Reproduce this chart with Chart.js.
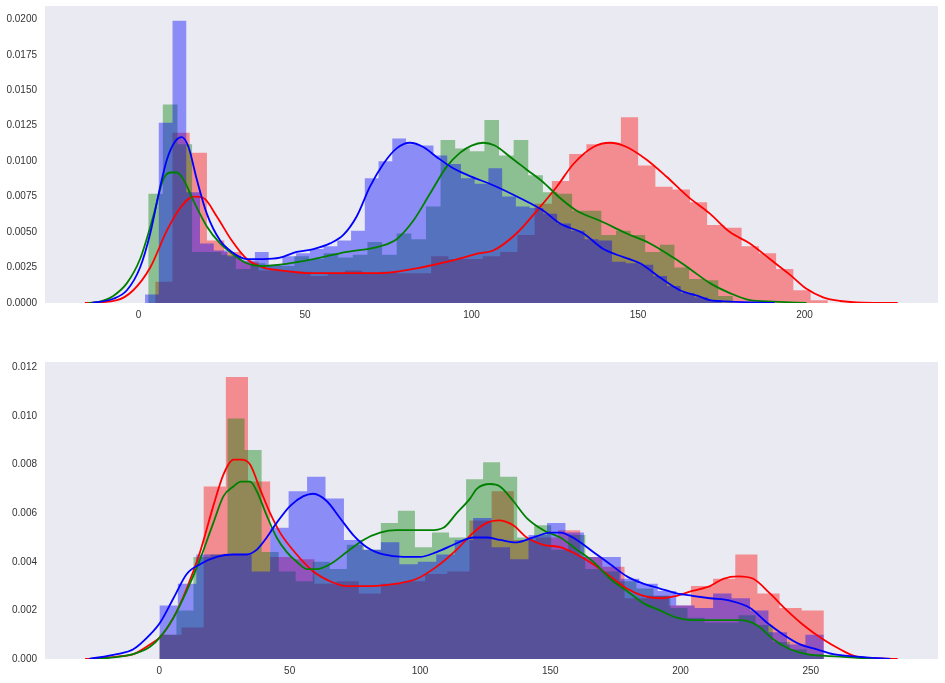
<!DOCTYPE html>
<html>
<head>
<meta charset="utf-8">
<script src="https://cdn.jsdelivr.net/npm/chart.js@4.4.0/dist/chart.umd.min.js"></script>
<style>
  body { margin: 0; background: #fff; }
  canvas { position: absolute; left: 0; }
  #topPanel { top: 0; }
  #bottomPanel { top: 330px; }
</style>
</head>
<body>
<canvas id="topPanel" width="945" height="330"></canvas>
<canvas id="bottomPanel" width="945" height="353"></canvas>
<script>
// ---- top panel: histogram bins (start, width, density per bin) ----
const topRedStart = 5.0, topRedWidth = 5.18;
const topRedHist = [0.0015, 0.0120, 0.0106, 0.0044, 0.0036, 0.0029, 0.0023, 0.0023, 0.0022, 0.0019,
  0.0021, 0.0023, 0.0021, 0.0022, 0.0021, 0.0021, 0.0033, 0.0031, 0.0031, 0.0033,
  0.0036, 0.0048, 0.0070, 0.0086, 0.0105, 0.0112, 0.0113, 0.0131, 0.0097, 0.0082,
  0.0080, 0.0071, 0.0055, 0.0053, 0.0040, 0.0035, 0.0024, 0.0009, 0.0002];
const topGreenStart = 2.9, topGreenWidth = 4.39;
const topGreenHist = [0.0077, 0.0140, 0.0112, 0.0036, 0.0036, 0.0034, 0.0024, 0.0028, 0.0027, 0.0026,
  0.0033, 0.0031, 0.0035, 0.0032, 0.0034, 0.0043, 0.0034, 0.0049, 0.0045, 0.0068,
  0.0115, 0.0109, 0.0107, 0.0129, 0.0104, 0.0115, 0.0090, 0.0078, 0.0077, 0.0065,
  0.0065, 0.0048, 0.0051, 0.0048, 0.0036, 0.0041, 0.0025, 0.0017, 0.0016, 0.0005];
const topBlueStart = 1.95, topBlueWidth = 4.125;
const topBlueHist = [0.0006, 0.0127, 0.0199, 0.0078, 0.0042, 0.0037, 0.0033, 0.0030, 0.0036, 0.0027,
  0.0033, 0.0035, 0.0038, 0.0040, 0.0044, 0.0051, 0.0088, 0.0100, 0.0116, 0.0112,
  0.0111, 0.0104, 0.0098, 0.0088, 0.0084, 0.0095, 0.0075, 0.0068, 0.0067, 0.0063,
  0.0056, 0.0051, 0.0045, 0.0044, 0.0029, 0.0028, 0.0027, 0.0019, 0.0012, 0.0007,
  0.0004, 0.0002];

// ---- top panel: density curves ----
const topRedKdeX = [-16.1, -6.5, -1.6, 3.5, 8.5, 12.5, 16.5, 19.5, 23.5, 28, 32.5, 37.5, 42.5, 52.5, 62.5,
  72.5, 82.5, 92.5, 97.5, 102, 106.5, 113.5, 119.6, 125.6, 130.6, 136.6, 141.6, 146.6, 152.6, 158.6,
  165, 171.6, 177.6, 183.6, 189.6, 195.6, 200.6, 205.6, 210.7, 217.7, 228];
const topRedKdeY = [0, 0.0002, 0.0009, 0.0025, 0.0051, 0.0067, 0.0075, 0.0074, 0.0061, 0.0044, 0.0031, 0.0025, 0.0023, 0.0021, 0.0021,
  0.0021, 0.0024, 0.0029, 0.0032, 0.0035, 0.0037, 0.0049, 0.0065, 0.0082, 0.0098, 0.0110, 0.0113, 0.0110, 0.0101, 0.0089,
  0.0075, 0.0063, 0.0050, 0.0042, 0.0031, 0.0020, 0.0010, 0.0004, 0.00014, 0.00002, 0];
const topGreenKdeX = [-15, -11.6, -7.6, -3.5, 0.45, 4.4, 7.4, 9.5, 11.5, 13.5, 16.5, 20.5, 24.5, 28, 32.5,
  37.5, 42.5, 52.5, 62.5, 72.5, 77.5, 82.5, 87.5, 92.5, 96.6, 100, 103.5, 107, 111.6, 116.6,
  121.6, 126.6, 131.6, 138.6, 146.6, 153.6, 160.6, 165.6, 171.6, 177.6, 183.6, 190.6, 200.6];
const topGreenKdeY = [0, 0.0001, 0.0005, 0.0014, 0.0031, 0.0061, 0.0087, 0.0092, 0.0092, 0.0087, 0.0072, 0.0054, 0.0042, 0.0035, 0.0028,
  0.0026, 0.0027, 0.0031, 0.0036, 0.0040, 0.0045, 0.0058, 0.0077, 0.0096, 0.0106, 0.0111, 0.0113, 0.0111, 0.0103, 0.0094,
  0.0085, 0.0074, 0.0065, 0.0058, 0.0049, 0.0042, 0.0032, 0.0024, 0.0014, 0.0007, 0.0002, 0.0001, 0];
const topBlueKdeX = [-14, -7.6, -3.5, 0.45, 3.5, 6.5, 8.5, 11, 13, 15, 17.5, 20.5, 24.5, 28, 32.5,
  37.5, 42.5, 47.5, 52.5, 57.5, 61.5, 65.5, 69.5, 73.5, 77.5, 81.5, 85.5, 89.5, 94.5, 99,
  106.5, 114.5, 121.6, 126.6, 133.6, 139.6, 143.6, 150.6, 156.6, 162.6, 168, 171.6, 177.6, 191];
const topBlueKdeY = [0, 0.0003, 0.0009, 0.0025, 0.0049, 0.0082, 0.0101, 0.0114, 0.0117, 0.0110, 0.0087, 0.0063, 0.0044, 0.0036, 0.0031,
  0.0031, 0.0032, 0.0036, 0.0038, 0.0042, 0.0048, 0.0061, 0.0082, 0.0098, 0.0109, 0.0113, 0.0110, 0.0103, 0.0095, 0.0090,
  0.0083, 0.0074, 0.0065, 0.0056, 0.0049, 0.0038, 0.0034, 0.0028, 0.0018, 0.0009, 0.0005, 0.0002, 0.0001, 0];

// ---- bottom panel: histogram bins ----
const bottomRedStart = 0, bottomRedWidth = 8.5;
const bottomRedHist = [0.0010, 0.0013, 0.0071, 0.0116, 0.0073, 0.0042, 0.0041, 0.0031, 0.0032, 0.0027,
  0.0031, 0.0032, 0.0035, 0.0036, 0.0057, 0.0069, 0.0049, 0.0050, 0.0053, 0.0042,
  0.0038, 0.0025, 0.0026, 0.0022, 0.0030, 0.0033, 0.0043, 0.0027, 0.0021, 0.0020];
const bottomGreenStart = 0, bottomGreenWidth = 6.538;
const bottomGreenHist = [0.0010, 0.0020, 0.0042, 0.0043, 0.0099, 0.0086, 0.0044, 0.0036, 0.0032, 0.0040,
  0.0037, 0.0047, 0.0045, 0.0056, 0.0061, 0.0046, 0.0052, 0.0050, 0.0074, 0.0081,
  0.0075, 0.0050, 0.0055, 0.0045, 0.0051, 0.0037, 0.0036, 0.0032, 0.0029, 0.0026,
  0.0021, 0.0017, 0.0015, 0.0015, 0.0018, 0.0014, 0.0007, 0.0004, 0.0002];
const bottomBlueStart = 0, bottomBlueWidth = 7.083;
const bottomBlueHist = [0.0022, 0.0031, 0.0043, 0.0043, 0.0043, 0.0036, 0.0054, 0.0069, 0.0075, 0.0066,
  0.0049, 0.0045, 0.0048, 0.0039, 0.0040, 0.0043, 0.0049, 0.0058, 0.0046, 0.0041,
  0.0051, 0.0056, 0.0052, 0.0042, 0.0042, 0.0033, 0.0031, 0.0028, 0.0022, 0.0021,
  0.0027, 0.0025, 0.0020, 0.0011, 0.0006, 0.0010];

// ---- bottom panel: density curves ----
const bottomRedKdeX = [-28.5, -16.3, -10, -3.6, 0.3, 5.4, 10.5, 15.6, 20.7, 24.6, 28.4, 31.3, 34.8, 38.6, 42.5,
  46.3, 52.7, 59.1, 65.5, 71.9, 80.9, 91.1, 98.8, 106.4, 114.1, 120.5, 125.6, 130.1, 135.8, 141,
  147.4, 153.8, 160.2, 166.5, 173, 179.4, 185.7, 192.1, 198.5, 204.5, 211.3, 216.4, 222.2, 227.9, 234.3,
  240.8, 247.1, 254.8, 261.2, 267.6, 283.3];
const bottomRedKdeY = [0, 0.0001, 0.0002, 0.0006, 0.0009, 0.0017, 0.0029, 0.0044, 0.0063, 0.0076, 0.0082, 0.0082, 0.0080, 0.0070, 0.0060,
  0.0052, 0.0043, 0.0036, 0.0032, 0.0030, 0.0030, 0.0031, 0.0033, 0.0038, 0.0045, 0.0052, 0.0056, 0.0057, 0.0055, 0.0050,
  0.0047, 0.0046, 0.0043, 0.0039, 0.0034, 0.0029, 0.0026, 0.0025, 0.0026, 0.0028, 0.0030, 0.0033, 0.0034, 0.0033, 0.0027,
  0.0020, 0.0014, 0.0008, 0.0004, 0.0001, 0];
const bottomGreenKdeX = [-24, -10, -3.6, 0.3, 5.4, 10.5, 15.6, 20.7, 24.6, 28.4, 31.3, 34.8, 37.4, 41.2, 45,
  48.9, 52.7, 56.6, 60.4, 65.5, 71.9, 78.3, 84.7, 91.1, 97.5, 103.9, 109, 114.1, 119.2, 121.8,
  126.9, 130.7, 135.8, 141, 147.4, 153.8, 160.2, 166.5, 173, 179.4, 185.7, 192.1, 198.5, 204.5, 211.3,
  222.8, 229.2, 235.7, 242, 248.4, 261.2, 274];
const bottomGreenKdeY = [0, 0.0002, 0.0005, 0.0009, 0.0017, 0.0028, 0.0041, 0.0056, 0.0067, 0.0071, 0.0073, 0.0073, 0.0069, 0.0059, 0.0050,
  0.0044, 0.0040, 0.0037, 0.0037, 0.0039, 0.0044, 0.0049, 0.0052, 0.0053, 0.0053, 0.0053, 0.0054, 0.0060, 0.0066, 0.0070,
  0.0072, 0.0071, 0.0065, 0.0058, 0.0053, 0.0050, 0.0045, 0.0040, 0.0033, 0.0028, 0.0023, 0.0020, 0.0017, 0.0016, 0.0016,
  0.0016, 0.0014, 0.0008, 0.0004, 0.0002, 0.0001, 0];
const bottomBlueKdeX = [-27, -16.3, -10, -3.6, 0.3, 5.4, 10.5, 15.6, 22, 28.4, 33.5, 37.4, 41.2, 45, 50.2,
  55.3, 59.1, 64.2, 69.3, 74.4, 79.6, 86, 93.6, 100, 106.4, 112.8, 117, 120.5, 125.6, 130.7,
  137.1, 143.5, 149.9, 153.8, 160.2, 166.5, 173, 179.4, 185.7, 192.1, 198.5, 204.5, 211.3, 219, 226.7,
  233.1, 239.5, 245.9, 252.3, 258.6, 267.6, 280.4];
const bottomBlueKdeY = [0, 0.0002, 0.0004, 0.0010, 0.0015, 0.0025, 0.0035, 0.0039, 0.0042, 0.0043, 0.0043, 0.0045, 0.0050, 0.0056, 0.0063,
  0.0067, 0.0068, 0.0065, 0.0058, 0.0051, 0.0046, 0.0043, 0.0042, 0.0042, 0.0044, 0.0047, 0.0049, 0.0050, 0.0050, 0.0049,
  0.0048, 0.0050, 0.0052, 0.0052, 0.0049, 0.0044, 0.0039, 0.0034, 0.0031, 0.0029, 0.0027, 0.0026, 0.0025, 0.0024, 0.0021,
  0.0015, 0.0010, 0.0006, 0.0004, 0.0002, 0.0001, 0];

// ---- axes ----
const topXTicks = [0, 50, 100, 150, 200];
const topYTicks = [0, 0.0025, 0.005, 0.0075, 0.01, 0.0125, 0.015, 0.0175, 0.02];
const bottomXTicks = [0, 50, 100, 150, 200, 250];
const bottomYTicks = [0, 0.002, 0.004, 0.006, 0.008, 0.010, 0.012];

const RED = '#ff0000', GREEN = '#008000', BLUE = '#0000ff';
const RED_FILL = 'rgba(255,0,0,0.4)', GREEN_FILL = 'rgba(0,128,0,0.4)', BLUE_FILL = 'rgba(0,0,255,0.4)';
const tickFont = { family: "'Liberation Sans', Arial, sans-serif", size: 10 };

const panelBackground = {
  id: 'panelBackground',
  beforeDraw(chart) {
    const { ctx, chartArea: a } = chart;
    ctx.save();
    ctx.fillStyle = '#eaeaf2';
    ctx.fillRect(a.left, a.top, a.right - a.left, a.bottom - a.top);
    ctx.restore();
  }
};

// bin heights -> step outline (left edge of each bin, closing at the last edge)
function histPoints(start, width, heights) {
  const pts = heights.map((h, i) => ({ x: start + i * width, y: h }));
  pts.push({ x: start + heights.length * width, y: 0 });
  return pts;
}

function curvePoints(xs, ys) {
  return xs.map((x, i) => ({ x: x, y: ys[i] }));
}

function histDataset(pts, fillColor, order) {
  return {
    data: pts, stepped: true, fill: 'origin', backgroundColor: fillColor,
    borderColor: 'rgba(0,0,0,0)', borderWidth: 0, pointRadius: 0, order: order
  };
}

function curveDataset(pts, color, order) {
  return {
    data: pts, borderColor: color, borderWidth: 1.8, fill: false, pointRadius: 0,
    cubicInterpolationMode: 'monotone', order: order
  };
}

function makePanel(id, p) {
  new Chart(document.getElementById(id), {
    type: 'line',
    data: { datasets: p.datasets },
    options: {
      responsive: false,
      animation: false,
      events: [],
      layout: { padding: { top: p.padTop, right: 7, left: 0, bottom: 0 } },
      plugins: { legend: { display: false }, tooltip: { enabled: false } },
      scales: {
        x: {
          type: 'linear', min: p.xMin, max: p.xMax,
          grid: { display: false, drawTicks: false },
          border: { display: false },
          ticks: { padding: 6, color: '#333', font: tickFont, autoSkip: false, maxRotation: 0,
                   callback: v => String(v) },
          afterBuildTicks: s => { s.ticks = p.xTicks.map(v => ({ value: v })); },
          afterFit: s => { s.height = p.xAxisHeight; s.paddingLeft = 0; s.paddingRight = 0; }
        },
        y: {
          type: 'linear', min: 0, max: p.yMax,
          grid: { display: false, drawTicks: false },
          border: { display: false },
          ticks: { padding: 8, color: '#333', font: tickFont, autoSkip: false,
                   callback: v => v.toFixed(p.yDecimals) },
          afterBuildTicks: s => { s.ticks = p.yTicks.map(v => ({ value: v })); },
          afterFit: s => { s.width = 45; s.paddingTop = 0; s.paddingBottom = 0; }
        }
      }
    },
    plugins: [panelBackground]
  });
}

makePanel('topPanel', {
  padTop: 6, xAxisHeight: 27, xMin: -28.1, xMax: 240.1, yMax: 0.02094, yDecimals: 4,
  xTicks: topXTicks, yTicks: topYTicks,
  datasets: [
    histDataset(histPoints(topRedStart, topRedWidth, topRedHist), RED_FILL, 6),
    histDataset(histPoints(topGreenStart, topGreenWidth, topGreenHist), GREEN_FILL, 5),
    histDataset(histPoints(topBlueStart, topBlueWidth, topBlueHist), BLUE_FILL, 4),
    curveDataset(curvePoints(topRedKdeX, topRedKdeY), RED, 3),
    curveDataset(curvePoints(topGreenKdeX, topGreenKdeY), GREEN, 2),
    curveDataset(curvePoints(topBlueKdeX, topBlueKdeY), BLUE, 1)
  ]
});

makePanel('bottomPanel', {
  padTop: 32, xAxisHeight: 24, xMin: -43.9, xMax: 298.8, yMax: 0.01222, yDecimals: 3,
  xTicks: bottomXTicks, yTicks: bottomYTicks,
  datasets: [
    histDataset(histPoints(bottomRedStart, bottomRedWidth, bottomRedHist), RED_FILL, 6),
    histDataset(histPoints(bottomGreenStart, bottomGreenWidth, bottomGreenHist), GREEN_FILL, 5),
    histDataset(histPoints(bottomBlueStart, bottomBlueWidth, bottomBlueHist), BLUE_FILL, 4),
    curveDataset(curvePoints(bottomRedKdeX, bottomRedKdeY), RED, 3),
    curveDataset(curvePoints(bottomGreenKdeX, bottomGreenKdeY), GREEN, 2),
    curveDataset(curvePoints(bottomBlueKdeX, bottomBlueKdeY), BLUE, 1)
  ]
});
</script>
</body>
</html>
